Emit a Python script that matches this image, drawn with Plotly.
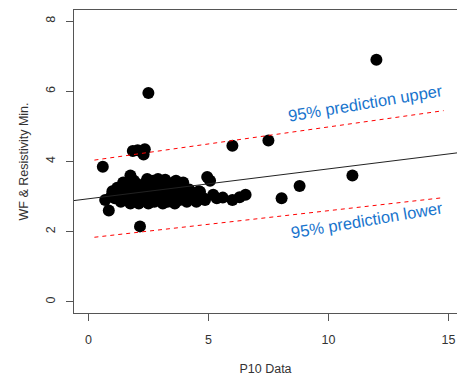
import plotly.graph_objects as go

# Scatter data (P10 vs WF & Resistivity Min.)
p10 = [12.0, 2.5, 7.5, 6.0, 1.85, 2.05, 2.35, 2.3, 0.6, 11.0, 8.8, 8.05,
       5.6, 6.0, 6.3, 6.55, 4.95, 5.07, 4.65, 4.86, 0.7, 0.85, 2.15, 1.75,
       1.0, 1.1, 1.2, 1.3, 1.35, 1.4, 1.5, 1.55, 1.6, 1.7, 1.75, 1.85, 1.9,
       1.95, 2.0, 2.05, 2.1, 2.15, 2.2, 2.3, 2.35, 2.4, 2.5, 2.55, 2.6, 2.7,
       2.75, 2.8, 2.9, 3.0, 3.05, 3.1, 3.2, 3.25, 3.3, 3.4, 3.5, 3.55, 3.6,
       3.7, 3.8, 3.9, 4.0, 4.1, 4.2, 4.3, 4.4, 4.5, 4.6, 0.95, 1.25, 3.0,
       2.6, 5.2, 4.8, 5.35, 2.9, 3.2, 3.65, 2.45, 3.95, 1.45]
wf_res = [6.9, 5.95, 4.6, 4.45, 4.3, 4.32, 4.35, 4.2, 3.85, 3.6, 3.3, 2.95,
          2.97, 2.9, 2.98, 3.05, 3.56, 3.45, 3.14, 2.9, 2.9, 2.6, 2.15, 3.6,
          3.15, 2.95, 3.25, 3.05, 2.85, 3.3, 3.1, 2.9, 3.35, 3.0, 2.8, 3.2, 3.45,
          2.9, 3.1, 3.35, 2.8, 3.0, 3.25, 2.9, 3.1, 3.4, 2.8, 3.2, 3.0, 3.45,
          2.85, 3.15, 3.35, 2.95, 3.2, 2.8, 3.4, 3.05, 2.85, 3.25, 3.0, 3.4, 2.8,
          3.15, 2.9, 3.3, 3.05, 2.85, 3.2, 2.95, 3.1, 2.85, 3.15, 3.0, 3.1, 3.3,
          2.85, 3.05, 2.95, 2.95, 3.5, 3.48, 3.45, 3.5, 3.4, 3.4]

# Regression fit
fit_intercept = 2.937
fit_slope = 0.0852

# 95% prediction bounds
pred_x = [0.25, 14.8]
pred_upper = [4.04, 5.45]
pred_lower = [1.84, 2.97]

x_range = [-0.6, 15.358]
y_range = [-0.32, 8.32]
x_ticks = [0, 5, 10, 15]
y_ticks = [0, 2, 4, 6, 8]

fit_x = x_range
fit_y = [fit_intercept + fit_slope * v for v in fit_x]

fig = go.Figure()
fig.add_trace(go.Scatter(x=p10, y=wf_res, mode="markers",
                         marker=dict(size=12, color="black", line=dict(width=0)),
                         cliponaxis=False, showlegend=False))
fig.add_trace(go.Scatter(x=fit_x, y=fit_y, mode="lines",
                         line=dict(color="#222222", width=1), showlegend=False))
fig.add_trace(go.Scatter(x=pred_x, y=pred_upper, mode="lines",
                         line=dict(color="red", width=1, dash="4px,4px"), showlegend=False))
fig.add_trace(go.Scatter(x=pred_x, y=pred_lower, mode="lines",
                         line=dict(color="red", width=1, dash="4px,4px"), showlegend=False))

blue = "#1874CD"
fig.add_annotation(x=11.53, y=5.68, text="95% prediction upper", showarrow=False,
                   textangle=-9.5, font=dict(family="Liberation Sans, Arial", size=16.5, color=blue))
fig.add_annotation(x=11.6, y=2.34, text="95% prediction lower", showarrow=False,
                   textangle=-9.5, font=dict(family="Liberation Sans, Arial", size=16.5, color=blue))

axis_common = dict(showgrid=False, zeroline=False, showline=True, linecolor="#555555",
                   linewidth=1, ticks="outside", ticklen=7, tickcolor="#555555",
                   tickfont=dict(family="Liberation Sans, Arial", size=12.5, color="#333333"))

fig.update_xaxes(range=x_range, tickvals=x_ticks, mirror=True, ticklabelstandoff=8,
                 title=dict(text="P10 Data", standoff=22,
                            font=dict(family="Liberation Sans, Arial", size=12.5, color="#333333")),
                 **axis_common)
fig.update_yaxes(range=y_range, tickvals=y_ticks, tickangle=-90, ticklabelstandoff=6,
                 title=dict(text="WF & Resistivity Min.", standoff=12,
                            font=dict(family="Liberation Sans, Arial", size=12.5, color="#333333")),
                 **axis_common)

fig.update_layout(width=457, height=376, plot_bgcolor="white", paper_bgcolor="white",
                  margin=dict(l=74, r=0, t=10, b=63, autoexpand=False))

fig.write_html("out.html", config={"displayModeBar": False},
               post_script="document.body.style.margin='0';document.body.style.overflow='hidden';")
